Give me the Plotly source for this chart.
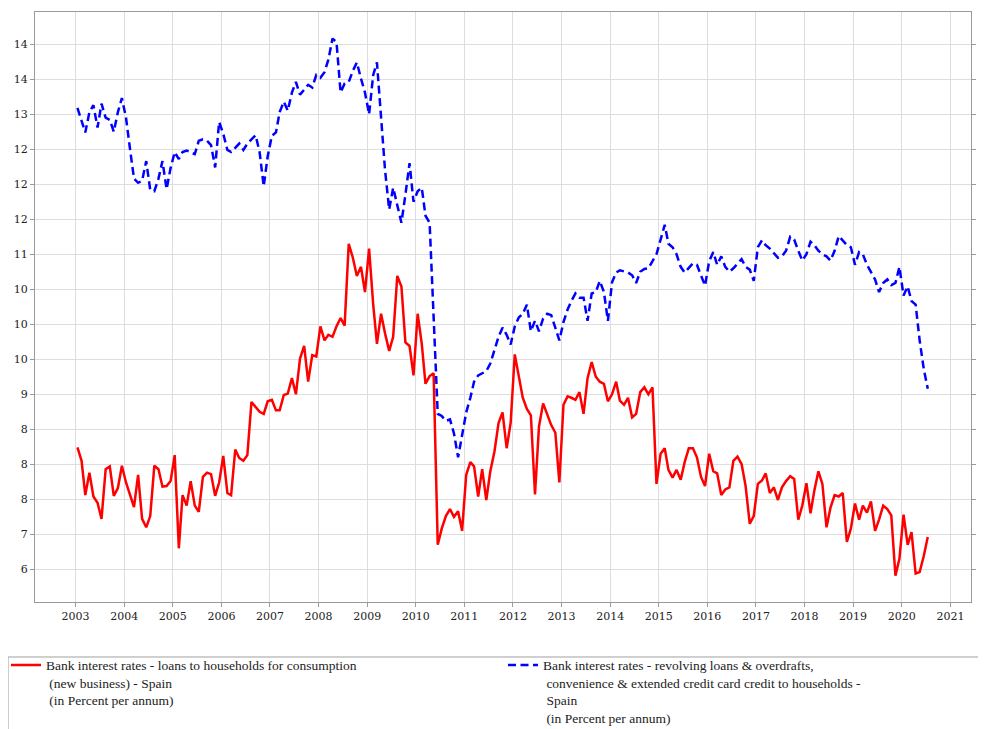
import pandas as pd
import plotly.graph_objects as go

# ---- data (monthly, Jan 2003 - Jul 2020) ----
start_month = "2003-01-01"
n_months = 211

red_consumption = [
    8.24, 8.05, 7.56, 7.88, 7.54, 7.45, 7.22, 7.93, 7.97, 7.55, 7.66, 7.98,   # 2003
    7.74, 7.56, 7.39, 7.85, 7.22, 7.10, 7.26, 7.98, 7.93, 7.68, 7.69, 7.76,   # 2004
    8.13, 6.80, 7.56, 7.41, 7.76, 7.41, 7.32, 7.82, 7.88, 7.86, 7.55, 7.74,   # 2005
    8.12, 7.59, 7.56, 8.21, 8.09, 8.05, 8.13, 8.89, 8.82, 8.75, 8.72, 8.90,   # 2006
    8.92, 8.77, 8.77, 8.99, 9.01, 9.23, 9.00, 9.51, 9.69, 9.18, 9.56, 9.54,   # 2007
    9.97, 9.77, 9.85, 9.82, 9.97, 10.09, 9.98, 11.15, 10.95, 10.69, 10.82, 10.46,  # 2008
    11.08, 10.28, 9.72, 10.15, 9.87, 9.62, 9.82, 10.69, 10.54, 9.74, 9.69, 9.27,   # 2009
    10.15, 9.72, 9.15, 9.26, 9.30, 6.85, 7.08, 7.26, 7.36, 7.25, 7.33, 7.05,   # 2010
    7.85, 8.03, 7.97, 7.54, 7.93, 7.49, 7.90, 8.18, 8.59, 8.74, 8.23, 8.59,   # 2011
    9.57, 9.26, 8.95, 8.79, 8.70, 7.57, 8.54, 8.87, 8.72, 8.56, 8.45, 7.74,   # 2012
    8.85, 8.97, 8.95, 8.92, 9.03, 8.72, 9.23, 9.46, 9.25, 9.18, 9.15, 8.90,   # 2013
    9.00, 9.18, 8.91, 8.85, 8.95, 8.67, 8.72, 9.03, 9.10, 9.00, 9.10, 7.72,   # 2014
    8.15, 8.23, 7.92, 7.81, 7.92, 7.78, 8.03, 8.23, 8.23, 8.10, 7.82, 7.69,   # 2015
    8.15, 7.90, 7.87, 7.56, 7.64, 7.67, 8.05, 8.11, 8.00, 7.69, 7.15, 7.26,   # 2016
    7.72, 7.77, 7.87, 7.59, 7.67, 7.49, 7.67, 7.76, 7.83, 7.79, 7.21, 7.41,   # 2017
    7.73, 7.30, 7.62, 7.90, 7.72, 7.10, 7.38, 7.56, 7.54, 7.59, 6.89, 7.08,   # 2018
    7.44, 7.21, 7.41, 7.31, 7.47, 7.05, 7.21, 7.41, 7.36, 7.27, 6.41, 6.65,   # 2019
    7.28, 6.85, 7.03, 6.44, 6.46, 6.69, 6.96,                                 # 2020
]

blue_revolving = [
    13.09, 12.92, 12.74, 13.03, 13.13, 12.81, 13.15, 12.95, 12.92, 12.75, 13.03, 13.23,  # 2003
    12.95, 12.49, 12.08, 12.02, 12.05, 12.33, 11.92, 11.90, 12.08, 12.33, 11.93, 12.23,  # 2004
    12.46, 12.36, 12.46, 12.48, 12.46, 12.43, 12.62, 12.64, 12.62, 12.56, 12.24, 12.89,  # 2005
    12.72, 12.49, 12.46, 12.52, 12.58, 12.49, 12.58, 12.64, 12.70, 12.46, 11.97, 12.40,  # 2006
    12.69, 12.74, 13.03, 13.18, 13.05, 13.31, 13.46, 13.28, 13.36, 13.42, 13.38, 13.56,  # 2007
    13.52, 13.60, 13.78, 14.08, 14.03, 13.31, 13.44, 13.46, 13.62, 13.74, 13.51, 13.31,  # 2008
    13.00, 13.56, 13.74, 12.90, 12.20, 11.64, 11.95, 11.70, 11.45, 11.85, 12.30, 11.75,  # 2009
    11.90, 11.95, 11.55, 11.45, 10.10, 8.72, 8.69, 8.62, 8.64, 8.44, 8.10, 8.44,         # 2010
    8.74, 8.95, 9.18, 9.27, 9.30, 9.33, 9.44, 9.62, 9.82, 9.95, 9.85, 9.71,              # 2011
    9.97, 10.10, 10.15, 10.28, 9.90, 10.05, 9.90, 10.08, 10.15, 10.13, 9.95, 9.77,       # 2012
    10.03, 10.21, 10.33, 10.44, 10.38, 10.38, 10.05, 10.44, 10.46, 10.62, 10.46, 10.05,  # 2013
    10.60, 10.74, 10.77, 10.76, 10.74, 10.70, 10.59, 10.75, 10.79, 10.80, 10.90, 11.00,  # 2014
    11.21, 11.42, 11.15, 11.10, 11.00, 10.82, 10.74, 10.80, 10.87, 10.85, 10.69, 10.55,  # 2015
    10.90, 11.03, 10.85, 10.97, 10.82, 10.75, 10.80, 10.87, 10.93, 10.82, 10.78, 10.62,  # 2016
    11.10, 11.20, 11.13, 11.08, 11.01, 10.95, 10.97, 11.05, 11.25, 11.21, 11.05, 10.91,  # 2017
    11.00, 11.18, 11.13, 11.05, 11.00, 10.97, 10.91, 11.05, 11.26, 11.19, 11.13, 11.10,  # 2018
    10.85, 11.03, 11.00, 10.85, 10.74, 10.64, 10.46, 10.59, 10.64, 10.56, 10.59, 10.82,  # 2019
    10.41, 10.54, 10.33, 10.28, 9.77, 9.36, 9.08,                                        # 2020
]

y_tick_values = [6.5, 7.0, 7.5, 8.0, 8.5, 9.0, 9.5, 10.0, 10.5, 11.0, 11.5, 12.0, 12.5, 13.0, 13.5, 14.0]
y_tick_labels = ["6", "7", "8", "8", "8", "9", "10", "10", "10", "11", "12", "12", "12", "13", "14", "14"]
x_tick_years = list(range(2003, 2022))

red_name = ("Bank interest rates - loans to households for consumption<br>"
            " (new business) - Spain<br> (in Percent per annum)")
blue_name = ("Bank interest rates - revolving loans & overdrafts,<br>"
             " convenience & extended credit card credit to households -<br>"
             " Spain<br> (in Percent per annum)")

dates = pd.date_range(start_month, periods=n_months, freq="MS") + pd.Timedelta(days=14)

fig = go.Figure()
fig.add_trace(go.Scatter(x=dates, y=red_consumption, mode="lines", name=red_name,
                         line=dict(color="#ff0000", width=2.5), legend="legend"))
fig.add_trace(go.Scatter(x=dates, y=blue_revolving, mode="lines", name=blue_name,
                         line=dict(color="#0000ff", width=2.5, dash="8px,4.5px"),
                         legend="legend2"))
# invisible trace to activate the right-hand axis labels
fig.add_trace(go.Scatter(x=[dates[0]], y=[blue_revolving[0]], yaxis="y2", mode="markers",
                         marker=dict(opacity=0), showlegend=False, hoverinfo="skip"))

y_range = [6.033, 14.46]
tick_font = dict(family="DejaVu Serif", size=11, color="#222222")
legend_font = dict(family="Liberation Serif", size=13.5, color="#222222")
axis_line = "#9a9a9a"
grid = "#dedede"

fig.update_layout(
    width=986, height=729,
    margin=dict(l=27, r=23, t=4, b=135, autoexpand=False),
    paper_bgcolor="white", plot_bgcolor="white",
    showlegend=True,
    xaxis=dict(
        type="date",
        range=["2002-03-02", "2021-06-05"],
        tickvals=[f"{y}-01-01" for y in x_tick_years],
        ticktext=[str(y) for y in x_tick_years],
        showgrid=True, gridcolor=grid, gridwidth=1,
        showline=True, linecolor=axis_line, linewidth=1, mirror=True,
        ticks="outside", ticklen=4, tickcolor=axis_line,
        tickfont=tick_font, zeroline=False, automargin=False,
    ),
    yaxis=dict(
        range=y_range,
        tickvals=y_tick_values, ticktext=y_tick_labels,
        showgrid=True, gridcolor=grid, gridwidth=1,
        showline=True, linecolor=axis_line, linewidth=1, mirror=True,
        ticks="outside", ticklen=4, tickcolor=axis_line,
        tickfont=tick_font, zeroline=False, automargin=False,
    ),
    yaxis2=dict(
        range=y_range, overlaying="y", side="right",
        tickvals=y_tick_values, ticktext=y_tick_labels,
        showgrid=False, showline=False, zeroline=False,
        ticks="outside", ticklen=4, tickcolor=axis_line,
        tickfont=tick_font, automargin=False,
    ),
    legend=dict(
        orientation="h", x=-0.031, xanchor="left", y=-0.081, yanchor="top",
        valign="top", bgcolor="rgba(0,0,0,0)", borderwidth=0,
        font=legend_font,
    ),
    legend2=dict(
        orientation="h", x=0.500, xanchor="left", y=-0.081, yanchor="top",
        valign="top", bgcolor="rgba(0,0,0,0)", borderwidth=0,
        font=legend_font,
    ),
    shapes=[dict(type="rect", xref="paper", yref="paper",
                 x0=-0.0288, x1=1.05, y0=-0.25, y1=-0.0932,
                 line=dict(color="#a0a0a0", width=1), fillcolor="rgba(0,0,0,0)",
                 layer="below")],
)

fig.write_html("out.html")
